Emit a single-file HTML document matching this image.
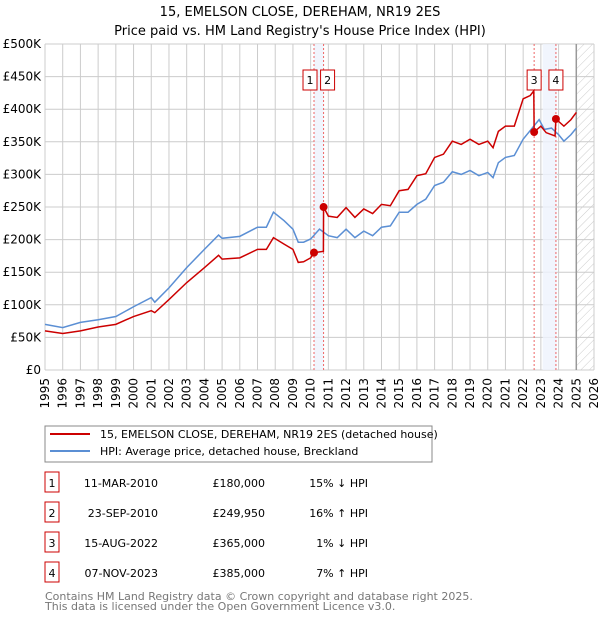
<!DOCTYPE html>
<html><head><meta charset="utf-8"><style>
body{margin:0;background:#fff;font-family:"DejaVu Sans","Liberation Sans",sans-serif;}
svg text{font-family:"DejaVu Sans","Liberation Sans",sans-serif;}
</style></head><body>
<svg width="600" height="620" xmlns="http://www.w3.org/2000/svg" id="chart">
<defs><pattern id="hatch" width="6" height="6" patternUnits="userSpaceOnUse" patternTransform="rotate(45)"><line x1="0" y1="0" x2="0" y2="6" stroke="#ccc" stroke-width="1"/></pattern></defs>
<text x="300" y="16" text-anchor="middle" font-size="13">15, EMELSON CLOSE, DEREHAM, NR19 2ES</text>
<text x="300" y="35" text-anchor="middle" font-size="13">Price paid vs. HM Land Registry's House Price Index (HPI)</text>
<g id="grid"></g><g id="bands"></g><g id="series"></g><g id="axes"></g>
<rect x="45" y="426" width="387" height="36" fill="#fff" stroke="#888"/>
<line x1="50" y1="434" x2="90" y2="434" stroke="#cc0000" stroke-width="2"/>
<text x="100" y="438" font-size="11">15, EMELSON CLOSE, DEREHAM, NR19 2ES (detached house)</text>
<line x1="50" y1="451" x2="90" y2="451" stroke="#5b8fd4" stroke-width="2"/>
<text x="100" y="455" font-size="11">HPI: Average price, detached house, Breckland</text>
<g id="table" font-size="11"></g>
<text x="45" y="600" font-size="11" fill="#777">Contains HM Land Registry data © Crown copyright and database right 2025.</text>
<text x="45" y="610" font-size="11" fill="#777">This data is licensed under the Open Government Licence v3.0.</text>
</svg>
<script>
const yearTicks=[1995,1996,1997,1998,1999,2000,2001,2002,2003,2004,2005,2006,2007,2008,2009,2010,2011,2012,2013,2014,2015,2016,2017,2018,2019,2020,2021,2022,2023,2024,2025,2026];
const valueTicks=[0,50,100,150,200,250,300,350,400,450,500];
const valueTickLabels=["£0","£50K","£100K","£150K","£200K","£250K","£300K","£350K","£400K","£450K","£500K"];
const hpiT=[1995,1996,1997,1998,1999,2000,2001,2001.2,2002,2003,2004,2004.8,2005,2006,2007,2007.5,2007.9,2008.5,2009,2009.3,2009.6,2010,2010.5,2011,2011.5,2012,2012.5,2013,2013.5,2014,2014.5,2015,2015.5,2016,2016.5,2017,2017.5,2018,2018.5,2019,2019.5,2020,2020.3,2020.6,2021,2021.5,2022,2022.3,2022.6,2022.9,2023.2,2023.6,2024,2024.3,2024.7,2025];
const hpiV=[70,65,73,77,82,97,111,104,126,157,185,207,202,205,219,219,242,229,216,196,196,201,216,206,203,216,203,213,206,219,221,242,242,254,262,283,288,304,300,306,298,303,295,318,326,329,354,364,374,384,369,371,361,351,361,371];
const priceT=[1995,1996,1997,1998,1999,2000,2001,2001.2,2002,2003,2004,2004.8,2005,2006,2007,2007.5,2007.9,2008.5,2009,2009.3,2009.6,2010,2010.19,2010.72,2010.73,2011,2011.5,2012,2012.5,2013,2013.5,2014,2014.5,2015,2015.5,2016,2016.5,2017,2017.5,2018,2018.5,2019,2019.5,2020,2020.3,2020.6,2021,2021.5,2022,2022.4,2022.6,2022.62,2023,2023.3,2023.8,2023.85,2024.3,2024.7,2025];
const priceV=[60,56,60,66,70,82,91,88,108,134,157,176,170,172,185,185,203,193,185,165,166,172,180,182,250,236,234,249,234,247,240,254,252,275,277,298,301,326,331,351,346,354,346,351,341,366,374,374,416,421,428,365,374,364,359,385,374,384,395];
const saleIds=["1","2","3","4"];
const saleT=[2010.19,2010.73,2022.62,2023.85];
const saleV=[180,249.95,365,385];
const saleDates=["11-MAR-2010","23-SEP-2010","15-AUG-2022","07-NOV-2023"];
const salePrices=["£180,000","£249,950","£365,000","£385,000"];
const saleHpi=["15% ↓ HPI","16% ↑ HPI","1% ↓ HPI","7% ↑ HPI"];
const bandStarts=[2010.19,2023.1];
const bandEnds=[2010.73,2023.9];

const NS="http://www.w3.org/2000/svg";
const X0=45,X1=594,Y0=370,Y1=44;
const xs=t=>X0+(t-1995)*(X1-X0)/31;
const ys=v=>Y0-v*(Y0-Y1)/500;
function mk(tag,at,parent){const e=document.createElementNS(NS,tag);for(const k in at)e.setAttribute(k,at[k]);document.getElementById(parent).appendChild(e);return e;}
// grid
yearTicks.forEach(y=>{const l=mk('line',{x1:xs(y),x2:xs(y),y1:Y1,y2:Y0,stroke:'#ccc'},'grid');


const t=mk('text',{x:0,y:0,'font-size':12,'text-anchor':'end',transform:`translate(${xs(y)+4},${Y0+8}) rotate(-90)`},'axes');t.textContent=y;

});
valueTicks.forEach((v,i)=>{const l=mk('line',{x1:X0,x2:X1,y1:ys(v),y2:ys(v),stroke:'#ccc'},'grid');


const t=mk('text',{x:X0-4,y:ys(v)+4,'font-size':12,'text-anchor':'end'},'axes');t.textContent=valueTickLabels[i];

});
// bands
bandStarts.forEach((s,i)=>{const r=mk('rect',{x:xs(s),y:Y1,width:xs(bandEnds[i])-xs(s),height:Y0-Y1,fill:'#eef3fc',opacity:0.8},'bands');

});
const h=mk('rect',{x:xs(2025),y:Y1,width:X1-xs(2025),height:Y0-Y1,fill:'url(#hatch)'},'bands');


const fl=mk('line',{x1:xs(2025),x2:xs(2025),y1:Y1,y2:Y0,stroke:'#999','stroke-width':1.5},'bands');


saleT.forEach((t,i)=>{const l=mk('line',{x1:xs(t),x2:xs(t),y1:Y1,y2:Y0,stroke:'#e66','stroke-dasharray':'2,2'},'bands');


const off=i==0?-4:(i==1?4:0);
const b=mk('rect',{x:xs(t)+off-7,y:70,width:14,height:20,fill:'#fff',stroke:'#c00'},'bands');


const tx=mk('text',{x:xs(t)+off,y:84,'font-size':11,'text-anchor':'middle'},'bands');tx.textContent=saleIds[i];

});
// series
const hp=mk('polyline',{points:hpiT.map((t,i)=>xs(t)+','+ys(hpiV[i])).join(' '),fill:'none',stroke:'#5b8fd4','stroke-width':1.5},'series');


const pp=mk('polyline',{points:priceT.map((t,i)=>xs(t)+','+ys(priceV[i])).join(' '),fill:'none',stroke:'#cc0000','stroke-width':1.5},'series');


saleT.forEach((t,i)=>{const c=mk('circle',{cx:xs(t),cy:ys(saleV[i]),r:4,fill:'#cc0000'},'series');

});
// table
saleIds.forEach((id,i)=>{const y=483+i*30;
const b=mk('rect',{x:45,y:y-11,width:14,height:20,fill:'#fff',stroke:'#c00'},'table');


const cols=[[52,id,'middle'],[158,saleDates[i],'end'],[265,salePrices[i],'end'],[368,saleHpi[i],'end']];
cols.forEach(c=>{const t=mk('text',{x:c[0],y:y+4,'text-anchor':c[2]},'table');t.textContent=c[1];

});});
</script>
</body></html>
